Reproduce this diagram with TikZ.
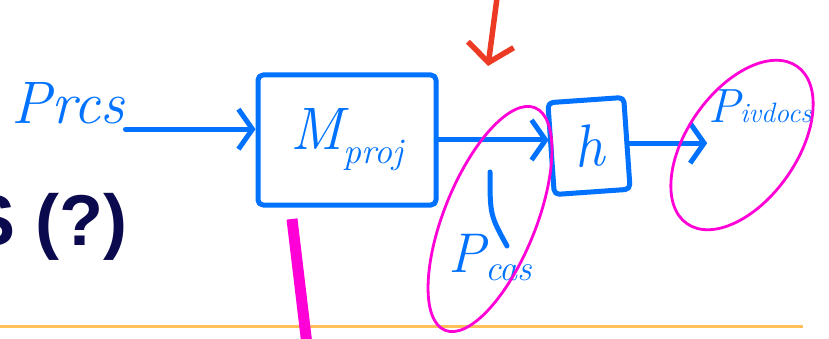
\documentclass[tikz,border=0pt]{standalone}
\usepackage{fontspec}
\newfontfamily\slidefont{Liberation Sans}
\usetikzlibrary{arrows.meta, positioning, shapes.geometric}
\definecolor{inkblue}{RGB}{0,114,255}
\definecolor{hilite}{RGB}{255,0,214}
\definecolor{inkred}{RGB}{236,58,36}
\definecolor{rulegold}{RGB}{255,192,92}
\definecolor{navy}{RGB}{12,10,78}

\begin{document}
\begin{tikzpicture}[
  x=1pt, y=-1pt,
  ink/.style={draw=inkblue, line width=5pt, line cap=round, line join=round},
  inkarr/.style={ink, -{Straight Barb[length=14pt, width=40pt]}},
  hand/.style={text=inkblue, font=\itshape\fontsize{60}{60}\selectfont, inner sep=1pt},
  box/.style={ink, rounded corners=5pt, text=inkblue, inner sep=1pt,
              font=\itshape\fontsize{60}{60}\selectfont},
  loop/.style={draw=hilite, line width=2.8pt, ellipse, inner sep=0pt},
]
\useasboundingbox (0,0) rectangle (829,339);
\clip (0,0) rectangle (829,339);

% slide background
\draw[rulegold, line width=3pt] (0,326) -- (803,326);
\node[anchor=base east, text=navy, font=\slidefont\bfseries\fontsize{72}{72}\selectfont]
  (title) at (131,245) {S (?)};

% sketched pipeline
\node[hand] (rcs) at (68,103) {Prcs};
\node[box, minimum width=178pt, minimum height=130pt] (proj) at (347,140)
  {M\raisebox{-14pt}{\fontsize{36}{36}\selectfont proj}};
\node[box, minimum width=76pt, minimum height=92pt, rotate=4] (h) at (589,146) {h};
\node[hand, font=\itshape\fontsize{56}{56}\selectfont] (cas) at (490,258)
  {P\raisebox{-8pt}{\fontsize{36}{36}\selectfont cas}};
\node[hand, font=\itshape\fontsize{48}{48}\selectfont] (vdocs) at (760,106)
  {P\fontsize{28}{28}\selectfont ivdocs};

\draw[inkarr] ([yshift=-6pt]rcs.base east) -- ([yshift=-6pt]rcs.base east -| proj.west);
\draw[inkarr] (proj.east) -- (proj.east -| h.west);
\draw[inkarr] (h.east) -- (h.east -| vdocs.west);

\coordinate (tickA) at (490,172);
\coordinate (tickB) at (507,246);
\draw[ink] (tickA) .. controls (490,215) .. (tickB);

% red pointer
\coordinate (redtop) at (497,-2);
\coordinate (redtip) at (488,66);
\draw[draw=inkred, line width=5.5pt, line cap=round,
      -{Straight Barb[length=18pt, width=46pt]}] (redtop) -- (redtip);

% magenta highlights
\node[loop, minimum width=240pt, minimum height=92pt, rotate=68] (casloop) at (490,219) {};
\node[loop, minimum width=192pt, minimum height=110pt, rotate=55] (vdocsloop) at (742,145) {};
\coordinate (barTop) at (292,219);
\coordinate (barBot) at (307,345);
\draw[draw=hilite, line width=11pt] (barTop) -- (barBot);
\end{tikzpicture}
\end{document}
